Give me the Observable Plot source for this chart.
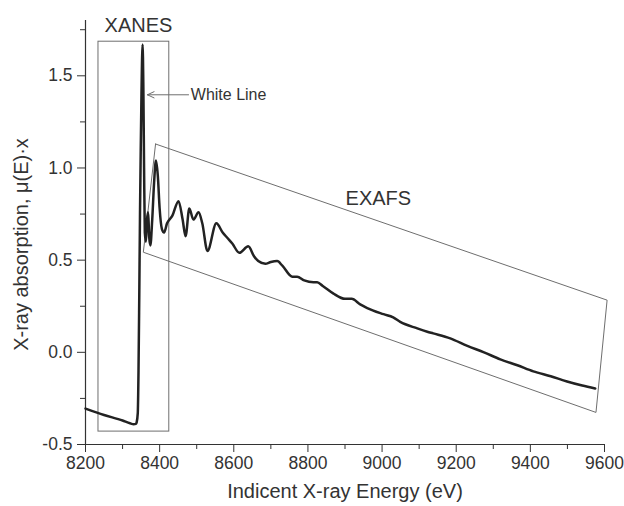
<!DOCTYPE html>
<html>
<head>
<meta charset="utf-8">
<script src="https://cdn.jsdelivr.net/npm/d3@7"></script>
<script src="https://cdn.jsdelivr.net/npm/@observablehq/plot@0.6"></script>
<style>
  html, body { margin: 0; padding: 0; background: #fff; }
  #chart { width: 624px; height: 506px; }
</style>
</head>
<body>
<div id="chart"></div>
<script>
// Spectrum: incident energy (eV) and absorption mu(E)*x
const energy = [8200, 8250, 8300, 8320, 8330, 8336, 8338, 8341, 8343, 8345, 8347, 8349, 8351, 8354, 8356, 8358, 8360, 8363, 8366, 8369, 8372, 8375, 8380, 8385, 8390, 8395, 8400, 8406, 8412, 8420, 8434, 8451, 8462, 8470, 8480, 8491, 8505, 8515, 8529, 8553, 8570, 8583, 8596, 8615, 8639, 8655, 8666, 8685, 8700, 8717, 8731, 8758, 8771, 8790, 8815, 8825, 8840, 8868, 8900, 8918, 8941, 8960, 9004, 9030, 9049, 9095, 9122, 9138, 9184, 9230, 9275, 9319, 9365, 9408, 9455, 9499, 9540, 9575];
const absorption = [-0.305, -0.34, -0.37, -0.385, -0.39, -0.388, -0.38, -0.33, -0.1, 0.3, 0.75, 1.1, 1.4, 1.67, 1.45, 1.0, 0.65, 0.6, 0.72, 0.76, 0.62, 0.58, 0.72, 0.92, 1.04, 0.96, 0.78, 0.67, 0.65, 0.70, 0.74, 0.82, 0.72, 0.63, 0.78, 0.72, 0.76, 0.70, 0.55, 0.70, 0.65, 0.62, 0.59, 0.54, 0.575, 0.52, 0.495, 0.48, 0.49, 0.495, 0.47, 0.41, 0.41, 0.39, 0.38, 0.38, 0.36, 0.32, 0.29, 0.29, 0.26, 0.24, 0.207, 0.19, 0.165, 0.13, 0.112, 0.103, 0.076, 0.035, 0.0, -0.038, -0.07, -0.103, -0.13, -0.158, -0.18, -0.196];

// Tick values
const xTicks = [8200, 8400, 8600, 8800, 9000, 9200, 9400, 9600];
const xMinorTicks = [8300, 8500, 8700, 8900, 9100, 9300, 9500];
const yTicks = [-0.5, 0.0, 0.5, 1.0, 1.5];
const yMinorTicks = [-0.25, 0.25, 0.75, 1.25, 1.75];

// Annotations (data coordinates)
const xanesBox = [{x1: 8235, x2: 8426, y1: -0.43, y2: 1.685}];
const exafsCornersX = [8389, 9607, 9577, 8356, 8389];
const exafsCornersY = [1.130, 0.283, -0.326, 0.543, 1.130];
const whiteLineArrow = [{x1: 8478, y1: 1.397, x2: 8367, y2: 1.397}];
const xanesLabel = [{x: 8343, y: 1.775, text: "XANES"}];
const exafsLabel = [{x: 8990, y: 0.832, text: "EXAFS"}];
const whiteLineLabel = [{x: 8484, y: 1.397, text: "White Line"}];

const spectrum = energy.map((e, i) => ({e, a: absorption[i]}));
const exafs = exafsCornersX.map((x, i) => ({x, y: exafsCornersY[i]}));

const font = "'Liberation Sans', Arial, Helvetica, sans-serif";
const boxColor = "#6e6e6e";
const ink = "#333";

const chart = Plot.plot({
  width: 624,
  height: 506,
  marginLeft: 85,
  marginRight: 20,
  marginTop: 20,
  marginBottom: 62,
  style: {fontFamily: font, fontSize: "17.5px", color: ink, background: "#fff"},
  x: {domain: [8200, 9600], axis: null},
  y: {domain: [-0.5, 1.8], axis: null},
  marks: [
    // axis lines
    Plot.ruleX([8200], {y1: -0.5, y2: 1.8, stroke: ink, strokeWidth: 1.2}),
    Plot.ruleY([-0.5], {x1: 8200, x2: 9600, stroke: ink, strokeWidth: 1.2}),
    // major ticks + labels
    Plot.axisX({ticks: xTicks, tickSize: 8, tickPadding: 4, tickFormat: d => String(d), stroke: ink, fill: ink, fontSize: 17.5, label: null}),
    Plot.axisY({ticks: yTicks, tickSize: 8, tickPadding: 5, tickFormat: d => d.toFixed(1), stroke: ink, fill: ink, fontSize: 17.5, label: null}),
    // minor ticks
    Plot.axisX({ticks: xMinorTicks, tickSize: 5, tickFormat: () => "", stroke: ink, label: null}),
    Plot.axisY({ticks: yMinorTicks, tickSize: 5, tickFormat: () => "", stroke: ink, label: null}),
    // axis titles
    Plot.text(["Indicent X-ray Energy (eV)"], {frameAnchor: "bottom", dy: 53, fontSize: 20, fill: ink}),
    Plot.text(["X-ray absorption, \u03bc(E)\u00b7x"], {frameAnchor: "left", textAnchor: "middle", lineAnchor: "middle", rotate: -90, dx: -64, dy: 12, fontSize: 20, fill: ink}),
    // annotation shapes
    Plot.rect(xanesBox, {x1: "x1", x2: "x2", y1: "y1", y2: "y2", fill: "none", stroke: boxColor, strokeWidth: 1}),
    Plot.line(exafs, {x: "x", y: "y", stroke: boxColor, strokeWidth: 1}),
    Plot.arrow(whiteLineArrow, {x1: "x1", y1: "y1", x2: "x2", y2: "y2", stroke: boxColor, strokeWidth: 1, headLength: 11, headAngle: 50}),
    // spectrum
    Plot.line(spectrum, {x: "e", y: "a", stroke: "#222", strokeWidth: 2.5, curve: "monotone-x"}),
    // annotation texts
    Plot.text(xanesLabel, {x: "x", y: "y", text: "text", textAnchor: "middle", fontSize: 20, fill: ink}),
    Plot.text(exafsLabel, {x: "x", y: "y", text: "text", textAnchor: "middle", fontSize: 20, fill: ink}),
    Plot.text(whiteLineLabel, {x: "x", y: "y", text: "text", textAnchor: "start", fontSize: 16, fill: ink})
  ]
});

document.getElementById("chart").appendChild(chart);
</script>
</body>
</html>
